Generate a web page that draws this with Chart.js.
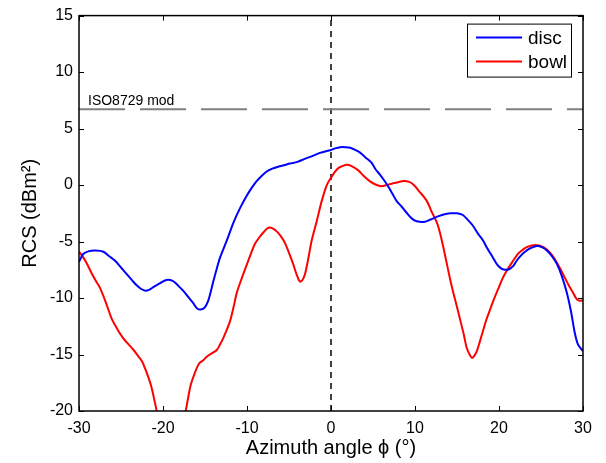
<!DOCTYPE html>
<html>
<head>
<meta charset="utf-8">
<script src="https://cdn.jsdelivr.net/npm/chart.js@4"></script>
<style>
  html, body { margin: 0; padding: 0; background: #fff; }
  #wrap { width: 606px; height: 463px; }
</style>
</head>
<body>
<div id="wrap"><canvas id="rcsChart"></canvas></div>
<script>
// azimuth (deg) and RCS (dBm^2)
const discAngle = [-30, -29.5, -28.8, -28, -27.1, -26.4, -25.7, -25, -24.3, -23.6, -23.1, -22.6, -22.1, -21.6, -21.2, -20.4, -19.6, -18.8, -18.2, -17.6, -17, -16.4, -15.9, -15.4, -15, -14.6, -14.3, -14, -13.6, -13.2, -12.4, -11.6, -10.8, -10, -9.4, -8.85, -8.2, -7.65, -7, -6.4, -5.6, -4.9, -4, -3.2, -2.1, -1.3, -0.6, 0, 0.5, 1.1, 1.7, 2.3, 2.9, 3.5, 4.1, 4.8, 5.3, 5.8, 6.3, 6.8, 7.3, 7.8, 8.4, 9, 9.6, 10.2, 11.2, 11.7, 12.2, 12.8, 13.4, 14.2, 15, 15.7, 16.3, 16.9, 17.5, 18.1, 18.6, 19.1, 19.7, 20.2, 20.7, 21.2, 21.7, 22.1, 22.6, 23.1, 23.7, 24.5, 25.1, 25.7, 26.3, 26.9, 27.5, 28.1, 28.6, 29, 29.4, 30];
const discRcs = [-6.8, -6.1, -5.85, -5.8, -5.9, -6.3, -6.7, -7.3, -7.9, -8.5, -8.9, -9.2, -9.35, -9.25, -9.05, -8.7, -8.4, -8.5, -8.9, -9.35, -9.9, -10.45, -10.95, -11.0, -10.8, -10.2, -9.4, -8.5, -7.4, -6.4, -4.9, -3.3, -2.0, -0.9, -0.2, 0.35, 0.85, 1.2, 1.45, 1.6, 1.75, 1.9, 2.05, 2.3, 2.6, 2.85, 3.0, 3.1, 3.25, 3.35, 3.35, 3.3, 3.1, 2.85, 2.45, 2.0, 1.4, 0.95, 0.45, -0.1, -0.75, -1.4, -1.9, -2.45, -2.95, -3.2, -3.25, -3.1, -2.95, -2.75, -2.6, -2.5, -2.5, -2.65, -3.1, -3.6, -4.3, -4.9, -5.6, -6.2, -6.95, -7.35, -7.5, -7.45, -7.15, -6.7, -6.25, -5.9, -5.6, -5.4, -5.5, -5.8, -6.3, -7.0, -8.1, -9.6, -11.3, -13.0, -14.1, -14.7];

const bowlAngle = [-30, -29.5, -29.1, -28.5, -27.9, -27.5, -26.8, -26.1, -25.4, -24.7, -24.1, -23.5, -23, -22.5, -22.1, -21.75, -21.4, -21.15, -20.75, -20.3, -19.5, -18.5, -17.8, -17.3, -17, -16.7, -16.2, -15.7, -15.2, -14.8, -14.2, -13.6, -13.2, -12.8, -12.4, -12, -11.6, -11.2, -10.6, -10, -9.5, -9.05, -8.5, -8.06, -7.6, -7.3, -6.9, -6.46, -6, -5.5, -5, -4.5, -4.1, -3.7, -3.4, -3.1, -2.7, -2.3, -1.7, -1.1, -0.5, 0, 0.4, 0.87, 1.4, 1.87, 2.4, 3.25, 3.9, 4.6, 5.3, 6, 6.6, 7.2, 8, 8.6, 9.2, 9.8, 10.5, 11.4, 12, 12.6, 13, 13.4, 13.8, 14.2, 14.6, 15, 15.4, 15.8, 16.15, 16.5, 16.8, 17.3, 17.7, 18.1, 18.5, 18.9, 19.4, 19.9, 20.4, 20.9, 21.6, 22.3, 22.8, 23.3, 24.3, 25.3, 26.1, 26.6, 27.1, 27.7, 28.25, 28.8, 29.25, 29.6, 30];
const bowlRcs = [-5.9, -6.4, -6.9, -7.8, -8.6, -9.1, -10.4, -11.85, -12.8, -13.6, -14.1, -14.6, -15.1, -15.6, -16.3, -17, -17.8, -18.6, -20.0, -21.5, -22.5, -22.5, -21.5, -20, -18.8, -17.7, -16.6, -15.8, -15.5, -15.2, -14.9, -14.6, -14.1, -13.5, -12.8, -12.0, -10.8, -9.5, -8.2, -7.0, -6.0, -5.2, -4.6, -4.2, -3.85, -3.75, -3.85, -4.1, -4.5, -5.1, -6.0, -7.0, -7.9, -8.55, -8.4, -7.9, -6.5, -4.9, -3.2, -1.4, 0.0, 0.65, 1.1, 1.5, 1.7, 1.8, 1.7, 1.3, 0.8, 0.35, 0.05, -0.1, 0.0, 0.12, 0.25, 0.35, 0.3, 0.05, -0.55, -1.4, -2.4, -3.3, -4.3, -5.6, -7.0, -8.4, -9.65, -10.8, -12.0, -13.2, -14.4, -15.0, -15.3, -14.8, -13.9, -12.9, -11.9, -11.1, -10.1, -9.2, -8.3, -7.6, -6.8, -6.05, -5.75, -5.5, -5.3, -5.5, -6.0, -6.5, -7.15, -8.0, -8.8, -9.5, -10.1, -10.25, -10.2];

const isoLevel = 6.7;
const isoLabel = 'ISO8729 mod';
const xTicks = [-30, -20, -10, 0, 10, 20, 30];
const yTicks = [-20, -15, -10, -5, 0, 5, 10, 15];

const FONT = "'Liberation Sans', Arial, Helvetica, sans-serif";

function pairs(xs, ys) {
  return xs.map((x, i) => ({ x: x, y: ys[i] }));
}

// box, inward ticks, legend and reference-line label (matlab look)
const matlabFrame = {
  id: 'matlabFrame',
  afterDraw(chart) {
    const ctx = chart.ctx;
    const a = chart.chartArea;
    const xs = chart.scales.x, ys = chart.scales.y;
    ctx.save();
    ctx.strokeStyle = '#000';
    ctx.lineWidth = 1;
    ctx.beginPath();
    xTicks.forEach(v => {
      const p = Math.round(xs.getPixelForValue(v)) + 0.5;
      ctx.moveTo(p, a.bottom); ctx.lineTo(p, a.bottom - 5);
      ctx.moveTo(p, a.top); ctx.lineTo(p, a.top + 5);
    });
    yTicks.forEach(v => {
      const p = Math.round(ys.getPixelForValue(v)) + 0.5;
      ctx.moveTo(a.left, p); ctx.lineTo(a.left + 5, p);
      ctx.moveTo(a.right, p); ctx.lineTo(a.right - 5, p);
    });
    ctx.stroke();
    ctx.lineWidth = 1.5;
    ctx.strokeRect(a.left, a.top, a.right - a.left, a.bottom - a.top);

    // reference label
    ctx.fillStyle = '#000';
    ctx.font = '14px ' + FONT;
    ctx.textBaseline = 'alphabetic';
    ctx.textAlign = 'left';
    ctx.fillText(isoLabel, a.left + 9, ys.getPixelForValue(isoLevel) - 4.5);

    // legend
    const bw = 104, bh = 53;
    const bx = a.right - 12 - bw, by = a.top + 8;
    ctx.fillStyle = '#fff';
    ctx.fillRect(bx, by, bw, bh);
    ctx.lineWidth = 1;
    ctx.strokeStyle = '#000';
    ctx.strokeRect(bx + 0.5, by + 0.5, bw, bh);
    ctx.font = '19px ' + FONT;
    ctx.textBaseline = 'middle';
    chart.data.datasets.slice(0, 2).forEach((ds, i) => {
      const ly = by + 14 + i * 24;
      ctx.strokeStyle = ds.borderColor;
      ctx.lineWidth = 2;
      ctx.beginPath();
      ctx.moveTo(bx + 9, ly); ctx.lineTo(bx + 55, ly);
      ctx.stroke();
      ctx.fillStyle = '#000';
      ctx.fillText(ds.label, bx + 61, ly + 1);
    });
    ctx.restore();
  }
};

const data = {
  datasets: [{
    label: 'disc',
    data: pairs(discAngle, discRcs),
    borderColor: '#0000ff',
    borderWidth: 2,
    pointRadius: 0,
    tension: 0.3
  }, {
    label: 'bowl',
    data: pairs(bowlAngle, bowlRcs),
    borderColor: '#ff0000',
    borderWidth: 2,
    pointRadius: 0,
    tension: 0.3
  }, {
    label: 'iso',
    data: [{ x: -30, y: isoLevel }, { x: 30, y: isoLevel }],
    borderColor: '#808080',
    borderWidth: 2,
    borderDash: [46, 15],
    pointRadius: 0
  }, {
    label: 'zero',
    data: [{ x: 0, y: -20 }, { x: 0, y: 15 }],
    borderColor: '#000',
    borderWidth: 1.5,
    borderDash: [6, 5],
    pointRadius: 0
  }]
};

const config = {
  type: 'line',
  data: data,
  options: {
    responsive: true,
    maintainAspectRatio: false,
    animation: false,
    layout: { padding: { top: 14, right: 23, left: 0, bottom: 0 } },
    plugins: { legend: { display: false }, tooltip: { enabled: false } },
    scales: {
      x: {
        type: 'linear',
        min: -30, max: 30,
        afterFit: s => { s.height = 52; },
        afterBuildTicks: s => { s.ticks = xTicks.map(v => ({ value: v })); },
        grid: { display: false, drawTicks: false },
        border: { display: false },
        ticks: { color: '#000', font: { family: FONT, size: 16 }, padding: 8, maxRotation: 0 },
        title: { display: true, text: 'Azimuth angle \u03D5 (\u00B0)', color: '#000', font: { family: FONT, size: 20 }, padding: { top: 0, bottom: 3 } }
      },
      y: {
        type: 'linear',
        min: -20, max: 15,
        afterFit: s => { s.width = 79; },
        afterBuildTicks: s => { s.ticks = yTicks.map(v => ({ value: v })); },
        grid: { display: false, drawTicks: false },
        border: { display: false },
        ticks: { color: '#000', font: { family: FONT, size: 16 }, padding: 6 },
        title: { display: true, text: 'RCS (dBm\u00B2)', color: '#000', font: { family: FONT, size: 20 }, padding: { top: 18, bottom: 0 } }
      }
    }
  },
  plugins: [matlabFrame]
};

const rcsChart = new Chart(document.getElementById('rcsChart'), config);
</script>
</body>
</html>
